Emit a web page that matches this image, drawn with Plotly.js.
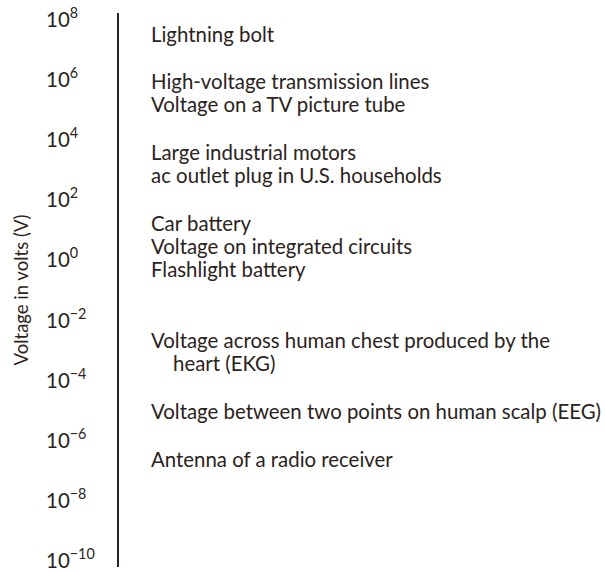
<!DOCTYPE html>
<html>
<head>
<meta charset="utf-8">
<script src="https://cdn.plot.ly/plotly-3.0.1.min.js"></script>
<style>html,body{margin:0;padding:0;background:#fff;}#chart{width:605px;height:572px;}</style>
</head>
<body>
<div id="chart"></div>
<script>
// Tick exponents (powers of ten, volts)
var tickExponents = [8, 6, 4, 2, 0, -2, -4, -6, -8, -10];
// Example voltages: text and where each line sits on the log scale (log10 V)
var labelTexts = [
  "Lightning bolt",
  "High-voltage transmission lines",
  "Voltage on a TV picture tube",
  "Large industrial motors",
  "ac outlet plug in U.S. households",
  "Car battery",
  "Voltage on integrated circuits",
  "Flashlight battery",
  "Voltage across human chest produced by the",
  "heart (EKG)",
  "Voltage between two points on human scalp (EEG)",
  "Antenna of a radio receiver"
];
var labelExponents = [7.52, 5.98, 5.2, 3.6, 2.84, 1.24, 0.47, -0.3, -2.66, -3.43, -5.03, -6.63];
// lines that continue the previous label (hanging indent)
var continuationLines = ["heart (EKG)"];
var axisTitle = "Voltage in volts (V)";

var ink = "#2b231c";
var FONT = "Lato, 'Open Sans', sans-serif";

function tickText(e) {
  return "10<sup>" + (e < 0 ? "\u2212" + Math.abs(e) : e) + "</sup>";
}

var annotations = [];
tickExponents.forEach(function (e) {
  annotations.push({
    xref: "paper", yref: "y", x: -0.152, y: e,
    xanchor: "left", yanchor: "middle", borderpad: 0, yshift: 2,
    text: tickText(e), showarrow: false,
    font: { family: FONT, size: 20.5, color: ink }
  });
});
labelTexts.forEach(function (t, i) {
  annotations.push({
    xref: "paper", yref: "y", x: 0.0607, y: labelExponents[i],
    xanchor: "left", yanchor: "middle", align: "left",
    xshift: continuationLines.indexOf(t) >= 0 ? 22 : 0,
    text: t, showarrow: false,
    font: { family: FONT, size: 20.4, color: ink }
  });
});

var layout = {
  width: 605, height: 572,
  margin: { l: 119, r: 0, t: 13, b: 5, pad: 0 },
  paper_bgcolor: "#ffffff", plot_bgcolor: "#ffffff",
  showlegend: false,
  xaxis: { range: [0, 1], visible: false, fixedrange: true },
  yaxis: {
    type: "log", range: [-10.23, 8.23],
    showline: true, linewidth: 2, linecolor: ink,
    showgrid: false, zeroline: false, ticks: "", showticklabels: false,
    fixedrange: true,
    title: { text: axisTitle, font: { family: FONT, size: 18.5, color: ink }, standoff: 84 }
  },
  annotations: annotations
};

Plotly.newPlot("chart", [], layout, { displayModeBar: false });
</script>
</body>
</html>
